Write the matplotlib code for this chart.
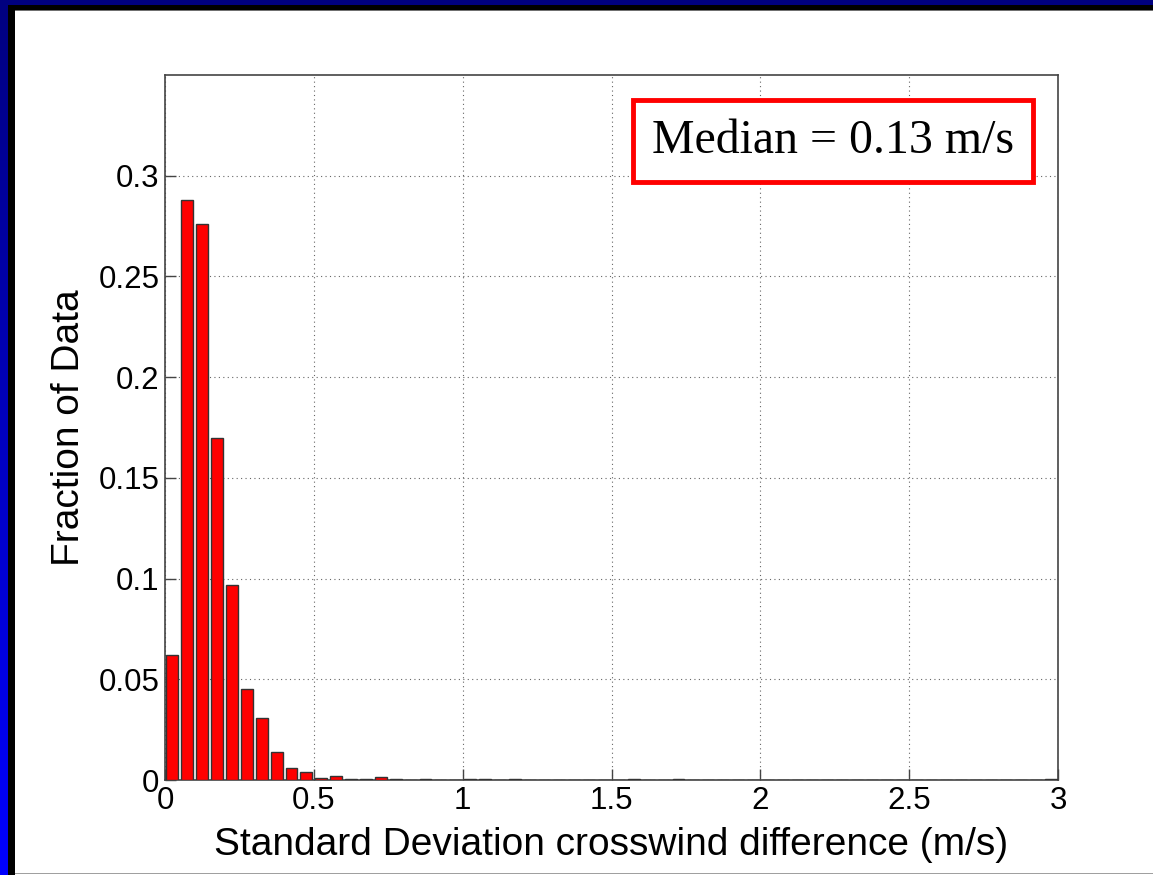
import matplotlib
matplotlib.use("Agg")
import matplotlib.pyplot as plt
import numpy as np
from matplotlib.patches import Rectangle

# histogram data: 60 bins of width 0.05 m/s from 0 to 3
bin_width = 0.05
bin_centers = np.arange(60) * bin_width + bin_width / 2
fractions = np.zeros(60)
fractions[:18] = [0.062, 0.288, 0.276, 0.170, 0.097, 0.045, 0.031, 0.014, 0.006, 0.004,
                  0.0012, 0.0018, 0.0003, 0.0003, 0.0015, 0.0003, 0.0, 0.0003]
fractions[20] = 0.0003
fractions[21] = 0.0003
fractions[23] = 0.0003
fractions[31] = 0.0003
fractions[34] = 0.0003
fractions[59] = 0.0003

xticks = [0, 0.5, 1, 1.5, 2, 2.5, 3]
xticklabels = ['0', '0.5', '1', '1.5', '2', '2.5', '3']
yticks = [0, 0.05, 0.1, 0.15, 0.2, 0.25, 0.3]
yticklabels = ['0', '0.05', '0.1', '0.15', '0.2', '0.25', '0.3']
median_text = 'Median = 0.13 m/s'

plt.rcParams['font.family'] = ['Liberation Sans', 'DejaVu Sans']

W, H = 1153, 875
fig = plt.figure(figsize=(W / 100, H / 100), dpi=100)
fig.patch.set_facecolor('white')

# slide frame: blue gradient strip on the left, navy on top, black inner border
grad = fig.add_axes([0, 0, 8 / W, 1])
g = np.linspace(0, 1, 256).reshape(-1, 1)
top_c = np.array([0.0, 0.0, 0.5])
bot_c = np.array([0.0, 0.0, 1.0])
img = top_c + (bot_c - top_c) * g
grad.imshow(img[:, None, :].repeat(2, axis=1), aspect='auto', extent=[0, 1, 0, 1], origin='upper')
grad.axis('off')
fig.patches.append(Rectangle((0, 1 - 5 / H), 1, 5 / H, transform=fig.transFigure,
                             facecolor='#000080', edgecolor='none', zorder=0))
fig.patches.append(Rectangle((8 / W, 1 - 10 / H), 1, 5 / H, transform=fig.transFigure,
                             facecolor='black', edgecolor='none', zorder=0))
fig.patches.append(Rectangle((8 / W, 0), 7 / W, 1 - 5 / H, transform=fig.transFigure,
                             facecolor='black', edgecolor='none', zorder=0))
fig.patches.append(Rectangle((15 / W, 1 - 11 / H), 1, 1 / H, transform=fig.transFigure,
                             facecolor='#707070', edgecolor='none', zorder=0))
fig.patches.append(Rectangle((15 / W, 1 / H), 1, 1 / H, transform=fig.transFigure,
                             facecolor='#a0a0a0', edgecolor='none', zorder=0))

ax = fig.add_axes([165 / W, 95 / H, 893 / W, 705 / H])
ax.bar(bin_centers, fractions, width=0.04, color='red', edgecolor='#333333', linewidth=1, zorder=3)

ax.set_xlim(0, 3)
ax.set_ylim(0, 0.35)
ax.set_xticks(xticks)
ax.set_xticklabels(xticklabels)
ax.set_yticks(yticks)
ax.set_yticklabels(yticklabels)
ax.tick_params(direction='in', length=8, width=1, color='#444444', labelsize=22.5, pad=4)
ax.grid(True, linestyle=(0, (1, 3)), color='#666666', linewidth=0.8, zorder=0)
for s in ax.spines.values():
    s.set_color('#444444')
    s.set_linewidth(1.2)

ax.set_xlabel('Standard Deviation crosswind difference (m/s)', fontsize=28, labelpad=8)
ax.set_ylabel('Fraction of Data', fontsize=28, labelpad=8)

ax.text(0.748, 0.906, median_text, transform=ax.transAxes, ha='center', va='center',
        fontsize=34.5, family='Liberation Serif', zorder=5,
        bbox=dict(boxstyle='square,pad=0.4', facecolor='white', edgecolor='red', linewidth=3.5))

fig.savefig('out.png', dpi=100)
